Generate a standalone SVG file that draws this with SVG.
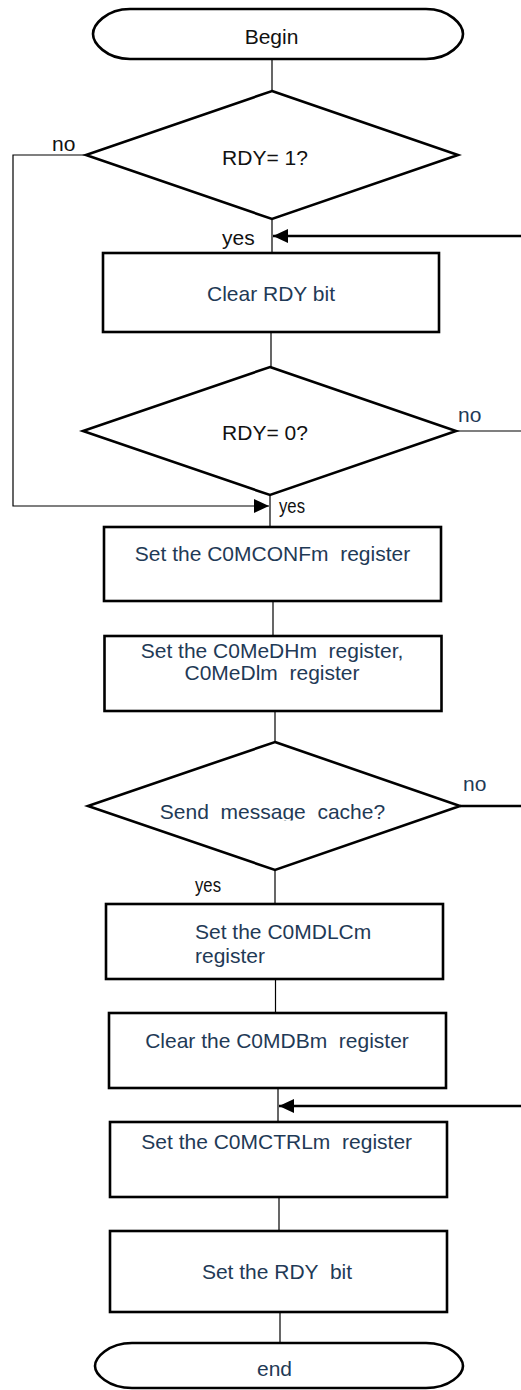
<svg xmlns="http://www.w3.org/2000/svg" width="521" height="1390" viewBox="0 0 521 1390">
<style>
  .box { fill: #fff; stroke: #000; stroke-width: 2.6; }
  .thin { fill: none; stroke: #000; stroke-width: 1.2; }
  .thick { fill: none; stroke: #000; stroke-width: 2.6; }
  text { font-family: "Liberation Sans", Arial, sans-serif; font-size: 21px; white-space: pre; }
  .blk { fill: #111; }
  .blu { fill: #1f3a56; }
  .mid { text-anchor: middle; }
</style>
<defs>
  <marker id="ah" markerUnits="userSpaceOnUse" markerWidth="16" markerHeight="16" refX="15" refY="7" orient="auto">
    <path d="M0,0 L15,7 L0,14 Z" fill="#000"/>
  </marker>
  <clipPath id="clipSend"><rect x="0" y="780" width="521" height="40.5"/></clipPath>
</defs>

<g id="connectors">
  <line class="thin" x1="272" y1="59" x2="272" y2="91"/>
  <line class="thin" x1="272" y1="219" x2="272" y2="253"/>
  <line class="thick" x1="521" y1="236" x2="273" y2="236" marker-end="url(#ah)"/>
  <polyline class="thin" points="86,155 13,155 13,506 269,506" marker-end="url(#ah)"/>
  <line class="thin" x1="271" y1="332" x2="271" y2="367"/>
  <line class="thin" x1="456" y1="431" x2="521" y2="431"/>
  <line class="thin" x1="270" y1="495" x2="270" y2="527"/>
  <line class="thin" x1="273" y1="601" x2="273" y2="636"/>
  <line class="thin" x1="275" y1="711" x2="275" y2="742"/>
  <line class="thick" x1="460" y1="806" x2="521" y2="806"/>
  <line class="thin" x1="275" y1="870" x2="275" y2="904"/>
  <line class="thin" x1="275.5" y1="979" x2="275.5" y2="1013"/>
  <line class="thin" x1="278" y1="1088" x2="278" y2="1122"/>
  <line class="thick" x1="521" y1="1106" x2="279" y2="1106" marker-end="url(#ah)"/>
  <line class="thin" x1="279" y1="1197" x2="279" y2="1231"/>
  <line class="thin" x1="280" y1="1312" x2="280" y2="1343"/>
  <text class="blk" x="52" y="151" font-size="20">no</text>
  <text class="blk" x="222" y="245" font-size="20">yes</text>
  <text class="blu" x="458" y="422" font-size="20">no</text>
  <text class="blk" x="279" y="513" font-size="20" textLength="26" lengthAdjust="spacingAndGlyphs">yes</text>
  <text class="blu" x="463" y="791" font-size="20">no</text>
  <text class="blk" x="195" y="892" font-size="20" textLength="26" lengthAdjust="spacingAndGlyphs">yes</text>
</g>

<g id="begin">
  <path class="box" d="M130,9 H426 C450,9 463,25 463,34 C463,43 450,59 426,59 H130 C106,59 93,43 93,34 C93,25 106,9 130,9 Z"/>
  <text class="blk mid" x="271.5" y="44" font-size="20.5">Begin</text>
</g>

<g id="rdy1">
  <polygon class="box" points="272,91 458,155 272,219 86,155"/>
  <text class="blk mid" x="265" y="165" font-size="20">RDY= 1?</text>
</g>

<g id="clearRdy">
  <rect class="box" x="103" y="253" width="336" height="79"/>
  <text class="blu mid" x="271" y="300.5">Clear RDY bit</text>
</g>

<g id="rdy0">
  <polygon class="box" points="270,367 456,431 270,495 83,431"/>
  <text class="blk mid" x="265" y="440" font-size="20">RDY= 0?</text>
</g>

<g id="setConf">
  <rect class="box" x="104" y="527" width="337" height="74"/>
  <text class="blu mid" x="272.5" y="561">Set the C0MCONFm  register</text>
</g>

<g id="setData">
  <rect class="box" x="104.5" y="636" width="337" height="75"/>
  <text class="blu mid" x="272" y="658">Set the C0MeDHm  register,</text>
  <text class="blu mid" x="272" y="680">C0MeDlm  register</text>
</g>

<g id="sendCache">
  <polygon class="box" points="275,742 460,806 275,870 88,806"/>
  <text class="blu mid" x="272.5" y="819" clip-path="url(#clipSend)">Send  message  cache?</text>
</g>

<g id="setDlc">
  <rect class="box" x="106" y="904" width="337" height="75"/>
  <text class="blu" x="195" y="939">Set the C0MDLCm</text>
  <text class="blu" x="195" y="963">register</text>
</g>

<g id="clearMdb">
  <rect class="box" x="109" y="1013" width="337" height="75"/>
  <text class="blu mid" x="277" y="1048">Clear the C0MDBm  register</text>
</g>

<g id="setCtrl">
  <rect class="box" x="110" y="1122" width="337" height="75"/>
  <text class="blu mid" x="276.7" y="1149">Set the C0MCTRLm  register</text>
</g>

<g id="setRdy">
  <rect class="box" x="110" y="1231" width="337" height="81"/>
  <text class="blu mid" x="277" y="1279">Set the RDY  bit</text>
</g>

<g id="end">
  <path class="box" d="M132,1343 H426 C450,1343 463,1358 463,1366 C463,1374 450,1388 426,1388 H132 C108,1388 95,1374 95,1366 C95,1358 108,1343 132,1343 Z"/>
  <text class="blu mid" x="274.5" y="1376">end</text>
</g>
</svg>
